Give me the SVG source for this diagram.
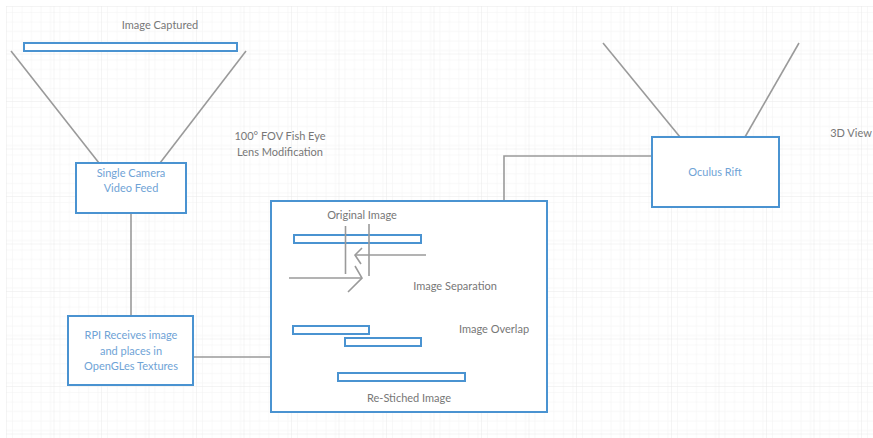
<svg xmlns="http://www.w3.org/2000/svg" width="873" height="438" viewBox="0 0 873 438">
  <defs>
    <pattern id="grid-minor" x="6" y="6" width="9.5" height="9.5" patternUnits="userSpaceOnUse">
      <path d="M 9.5 0 L 0 0 0 9.5" fill="none" stroke="#f2f2f2" stroke-width="1"/>
    </pattern>
    <pattern id="grid-major" x="6" y="6" width="47.5" height="47.5" patternUnits="userSpaceOnUse">
      <rect width="47.5" height="47.5" fill="url(#grid-minor)"/>
      <path d="M 47.5 0 L 0 0 0 47.5" fill="none" stroke="#e9e9e9" stroke-width="1"/>
    </pattern>
    <style>
      .node { fill: #ffffff; stroke: #4a93d1; stroke-width: 2; }
      .bar { fill: #ffffff; stroke: #4a93d1; stroke-width: 2; }
      .wire { fill: none; stroke: #9a9a9a; stroke-width: 1.6; }
      .label { font-family: Lato, "Liberation Sans", sans-serif; font-size: 11px; fill: #777777; text-anchor: middle; }
      .nlabel { font-family: Lato, "Liberation Sans", sans-serif; font-size: 11px; fill: #6fa3d6; text-anchor: middle; }
    </style>
  </defs>

  <!-- canvas -->
  <rect width="873" height="438" fill="#ffffff"/>
  <rect x="6" y="6" width="867" height="432" fill="url(#grid-major)"/>

  <!-- connectors -->
  <g id="connectors">
    <line class="wire" x1="11" y1="51" x2="99" y2="163"/>
    <line class="wire" x1="246" y1="51" x2="160" y2="163"/>
    <line class="wire" x1="131" y1="213" x2="131" y2="316"/>
    <line class="wire" x1="193" y1="357" x2="271" y2="357"/>
    <polyline class="wire" points="504,201 504,156 652,156"/>
    <line class="wire" x1="603" y1="43" x2="680" y2="137"/>
    <line class="wire" x1="799" y1="43" x2="745" y2="137"/>
  </g>

  <!-- captured frame -->
  <g id="image-captured">
    <text class="label" x="160" y="29">Image Captured</text>
    <rect class="bar" x="24" y="43" width="213" height="8"/>
  </g>

  <g id="lens-note">
    <text class="label" x="280" y="140">100° FOV Fish Eye</text>
    <text class="label" x="280" y="156">Lens Modification</text>
  </g>

  <g id="camera">
    <rect class="node" x="76" y="163" width="110" height="50"/>
    <text class="nlabel" x="131" y="177">Single Camera</text>
    <text class="nlabel" x="131" y="192">Video Feed</text>
  </g>

  <g id="rpi">
    <rect class="node" x="68" y="316" width="125" height="69"/>
    <text class="nlabel" x="131" y="339">RPI Receives image</text>
    <text class="nlabel" x="131" y="355">and places in</text>
    <text class="nlabel" x="131" y="370">OpenGLes Textures</text>
  </g>

  <g id="oculus">
    <rect class="node" x="652" y="137" width="127" height="70"/>
    <text class="nlabel" x="715" y="176">Oculus Rift</text>
  </g>

  <g id="view-note">
    <text class="label" x="851" y="137">3D View</text>
  </g>

  <!-- processing stage -->
  <g id="processing">
    <rect class="node" x="271" y="201" width="276" height="211"/>
    <text class="label" x="362" y="219">Original Image</text>
    <rect class="bar" x="294" y="235" width="127" height="8"/>
    <line class="wire" x1="345.5" y1="226" x2="345.5" y2="274"/>
    <line class="wire" x1="369" y1="224" x2="369" y2="276"/>
    <line class="wire" x1="426" y1="255" x2="356" y2="255"/>
    <polyline class="wire" points="362,248 355,255 361,264"/>
    <line class="wire" x1="289" y1="278" x2="361" y2="278"/>
    <polyline class="wire" points="355,266 362,278 348,292"/>
    <text class="label" x="455" y="290">Image Separation</text>
    <text class="label" x="494" y="333">Image Overlap</text>
    <rect class="bar" x="293" y="326" width="76" height="8"/>
    <rect class="bar" x="345" y="338" width="76" height="8"/>
    <rect class="bar" x="338" y="373" width="127" height="8"/>
    <text class="label" x="409" y="402">Re-Stiched Image</text>
  </g>
</svg>
